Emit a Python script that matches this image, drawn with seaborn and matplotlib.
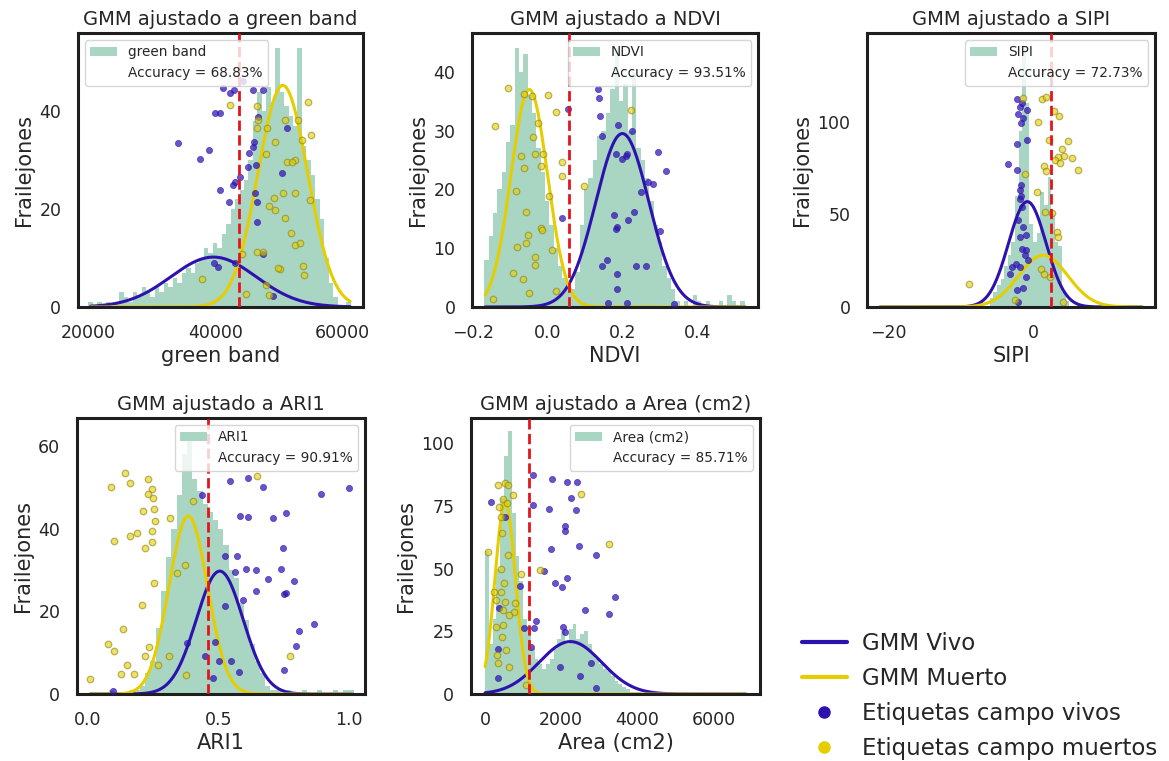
import numpy as np
import matplotlib
matplotlib.use("Agg")
import matplotlib.pyplot as plt
from matplotlib.lines import Line2D
from matplotlib.patches import Patch, Rectangle
import seaborn as sns

# ---------------- DATA ----------------
# --- green band ---
gb_bin_start = 20000
gb_bin_width = 700
gb_counts = [1, 0, 1, 0, 1, 0, 1, 3, 2, 1, 3, 2, 4, 3, 2, 4, 3, 5, 4, 6,
             5, 7, 8, 7, 9, 10, 12, 11, 13, 12, 15, 17, 20, 22, 24, 26, 30, 38, 44, 40,
             45, 42, 53, 44, 41, 39, 37, 53, 33, 30, 27, 22, 18, 10, 5, 2, 0, 0, 1, 0]
gb_vivo_gmm = [39700, 6700, 10.2]      # mean, sd, peak height
gb_muerto_gmm = [50600, 3900, 45.3]
gb_curve_range = [20400, 61200]
gb_threshold = 43700
gb_accuracy = "68.83%"
gb_vivo_x = [34170, 37550, 38960, 40000, 40780, 42340, 41200, 40680, 42080, 42710, 43020, 43900,
             45360, 45880, 46090, 45990, 47550, 46510, 46510, 46250, 47550, 49110, 50410, 40360,
             39840, 44270, 46670, 51200, 46400, 43120, 45200, 42860]
gb_vivo_y = [33.5, 30.2, 32.0, 39.6, 39.6, 43.7, 44.7, 24.0, 21.5, 24.9, 25.6, 26.6, 31.4, 32.8,
             33.8, 44.4, 44.4, 17.4, 21.5, 23.2, 10.9, 2.2, 27.3, 8.2, 8.9, 46.1, 38.9, 36.5, 29.0,
             8.9, 28.7, 44.4]
gb_muerto_x = [42340, 46510, 46770, 46510, 48070, 50930, 53020, 54580, 55000, 53540, 47910, 49370,
               51200, 52500, 52500, 50670, 49210, 48480, 49370, 54840, 50930, 51820, 52500, 53280,
               46510, 47550, 50150, 53800, 53900, 37920, 47910, 44790, 48480, 51980, 44170, 49890]
gb_muerto_y = [41.3, 41.0, 38.3, 36.5, 36.5, 38.3, 38.3, 42.0, 35.2, 34.2, 31.2, 33.8, 29.7, 30.0,
               23.2, 23.4, 22.3, 20.6, 19.8, 21.9, 18.1, 15.2, 12.6, 13.0, 11.3, 11.3, 7.7, 8.4,
               6.5, 5.8, 4.4, 2.6, 2.4, 29.7, 10.9, 7.9]
gb_xticks = [20000, 40000, 60000]
gb_yticks = [0, 20, 40]

# --- NDVI ---
nd_bin_start = -0.17
nd_bin_width = 0.0116
nd_counts = [8, 12, 16, 20, 23, 28, 31, 44, 40, 43, 36, 33, 27, 23, 18, 14, 10, 7, 5, 4,
             3, 6, 14, 20, 22, 25, 29, 30, 33, 37, 44, 35, 38, 30, 40, 27, 25, 22, 18, 14,
             11, 7, 5, 3, 1, 0, 1, 0, 2, 1, 0, 1, 0, 0, 1, 0, 2, 1, 0, 1]
nd_vivo_gmm = [0.199, 0.071, 29.5]
nd_muerto_gmm = [-0.05, 0.049, 37.0]
nd_curve_range = [-0.168, 0.527]
nd_threshold = 0.056
nd_accuracy = "93.51%"
nd_vivo_x = [0.135, 0.137, 0.053, 0.139, 0.188, 0.144, 0.226, 0.183, 0.21, 0.199, 0.212, 0.295,
             0.316, 0.268, 0.281, 0.248, 0.177, 0.23, 0.215, 0.186, 0.183, 0.299, 0.038, 0.159,
             0.144, 0.184, 0.235, 0.261, 0.184, 0.161, 0.212, 0.338]
nd_vivo_y = [37.0, 35.5, 33.6, 32.5, 31.0, 29.0, 29.9, 26.0, 25.6, 25.2, 26.0, 26.4, 23.1, 21.3,
             20.9, 19.6, 15.7, 16.2, 14.8, 13.6, 13.2, 12.9, 15.1, 8.0, 7.0, 5.6, 7.0, 7.0, 3.0,
             0.7, 0.7, 0.5]
nd_muerto_x = [-0.108, -0.142, -0.064, -0.042, 0.0, 0.022, -0.027, -0.04, -0.035, -0.073, -0.013,
               -0.018, -0.065, 0.037, 0.038, -0.086, 0.002, 0.097, -0.058, -0.018, -0.015, -0.053,
               -0.082, -0.058, 0.012, -0.035, -0.093, -0.068, -0.05, -0.148, 0.022, -0.035, 0.221]
nd_muerto_y = [37.2, 30.8, 36.2, 35.9, 36.1, 33.2, 31.3, 28.9, 26.0, 25.7, 26.0, 24.0, 23.6, 24.6,
               22.2, 19.7, 18.8, 20.6, 16.1, 13.5, 13.1, 12.2, 10.2, 10.8, 9.7, 7.2, 5.7, 4.7,
               2.4, 1.3, 2.8, 8.5, 33.5]
nd_xticks = [-0.2, 0.0, 0.2, 0.4]
nd_yticks = [0, 10, 20, 30, 40]

# --- SIPI ---
si_bin_start = -6.0
si_bin_width = 0.5
si_counts = [5, 8, 12, 15, 22, 28, 35, 60, 95, 140, 110, 45, 35, 40, 62, 55, 70, 50, 35, 33, 8, 3]
si_vivo_gmm = [-0.8, 2.6, 56.8]
si_muerto_gmm = [1.4, 3.4, 27.9]
si_curve_range = [-21.2, 15.1]
si_threshold = 2.47
si_accuracy = "72.73%"
si_vivo_x = [-2.19, -1.53, -1.77, -0.79, -2.09, -1.4, -1.72, -2.19, -0.84, -3.49, -2.19, -1.72,
             -1.86, -1.72, -1.86, -1.53, -2.09, -1.4, -1.53, -0.93, -1.16, -0.7, -2.33, -1.86,
             -3.21, -0.93, -2.19, -1.4, -2.09, -2.88, -1.86, -0.93]
si_vivo_y = [112, 110, 108, 106, 104, 102, 99, 88, 90, 77, 74, 66, 63, 60, 58, 54, 47, 43, 31.5,
             30.6, 27.9, 25.2, 23.4, 21.6, 17.7, 16.2, 9.4, 10.3, 2.7, 21.6, 37.8, 38.7]
si_muerto_x = [-1.4, 1.26, 1.72, 2.93, 3.63, 0.7, 2.19, 4.88, 3.95, 4.33, 3.49, 5.35, 3.02, 3.72,
               1.53, 1.72, 6.19, -1.16, 0.6, 1.63, 2.56, 3.26, 3.4, 1.07, 1.53, -8.84, 4.19,
               -2.56, 2.33]
si_muerto_y = [112.6, 112, 113, 105.8, 102.7, 100, 90, 89.5, 85.2, 81.4, 81, 80.5, 79.3, 77.5,
               76, 73.5, 73.9, 71.5, 62.2, 51.4, 50.5, 40.5, 37.8, 20.7, 17.7, 12.3, 2.7, 3.6, 16.2]
si_xticks = [-20, 0]
si_yticks = [0, 50, 100]

# --- ARI1 ---
ar_bin_start = 0.0
ar_bin_width = 0.02
ar_counts = [0, 0, 0, 0, 1, 0, 0, 0, 1, 1, 2, 5, 8, 16, 25, 33, 40, 48, 58, 63,
             52, 49, 46, 44, 42, 40, 36, 30, 28, 22, 18, 12, 8, 5, 2, 1, 1, 0, 1, 0,
             0, 1, 0, 0, 1, 0, 0, 1, 0, 1, 1]
ar_vivo_gmm = [0.506, 0.09, 29.7]
ar_muerto_gmm = [0.385, 0.074, 43.0]
ar_curve_range = [0.008, 1.014]
ar_threshold = 0.462
ar_accuracy = "90.91%"
ar_vivo_x = [0.545, 0.615, 0.671, 0.436, 0.894, 1.004, 0.583, 0.615, 0.712, 0.759, 0.747, 0.526,
             0.571, 0.564, 0.606, 0.645, 0.74, 0.692, 0.791, 0.645, 0.754, 0.76, 0.594, 0.526,
             0.868, 0.81, 0.797, 0.382, 0.487, 0.449, 0.504, 0.551, 0.581, 0.753, 0.481, 0.096]
ar_vivo_y = [51.5, 52.1, 50.0, 48.0, 48.3, 49.9, 43.1, 42.7, 42.6, 43.8, 35.3, 33.4, 33.3, 29.6,
             30.2, 30.0, 30.2, 27.8, 27.4, 25.0, 24.1, 24.5, 22.7, 21.2, 16.9, 15.2, 11.5, 12.4,
             12.6, 9.1, 7.9, 8.1, 5.3, 5.7, 3.8, 0.8]
ar_muerto_x = [0.141, 0.09, 0.163, 0.231, 0.244, 0.231, 0.25, 0.253, 0.212, 0.256, 0.314, 0.188,
               0.163, 0.099, 0.247, 0.244, 0.218, 0.404, 0.372, 0.34, 0.254, 0.209, 0.135, 0.077,
               0.1, 0.151, 0.128, 0.177, 0.006, 0.218, 0.235, 0.269, 0.31, 0.378, 0.65, 0.776]
ar_muerto_y = [53.3, 50.1, 51.1, 51.9, 49.6, 48.3, 47.3, 44.6, 44.2, 41.8, 42.6, 38.9, 38.1, 36.9,
               39.3, 36.7, 35.3, 46.6, 31.2, 29.2, 26.8, 21.5, 15.8, 12.2, 10.4, 6.9, 4.9, 4.9,
               3.6, 9.2, 11.4, 6.9, 9.2, 4.6, 52.6, 9.3]
ar_xticks = [0.0, 0.5, 1.0]
ar_yticks = [0, 20, 40, 60]

# --- Area (cm2) ---
area_bin_start = 0
area_bin_width = 100
area_counts = [57, 20, 30, 50, 78, 95, 105, 72, 55, 45, 30, 27, 18, 14, 12, 10, 12, 14, 18, 22,
               25, 20, 26, 28, 22, 24, 25, 20, 16, 14, 12, 10, 9, 7, 5, 4, 3, 2, 1, 1,
               1, 0, 1, 0, 1]
area_vivo_gmm = [2240, 820, 20.9]
area_muerto_gmm = [529, 268, 76.5]
area_curve_range = [0, 6850]
area_threshold = 1163
area_accuracy = "85.71%"
area_vivo_x = [150, 529, 1269, 1753, 2150, 2414, 1251, 1692, 2264, 2396, 2088, 2106, 1744, 2458,
               2907, 925, 1559, 1824, 2026, 2159, 3410, 2634, 3251, 370, 1339, 2044, 2106, 1031,
               352, 1956, 2793, 2502, 352, 2925, 1207, 1295]
area_vivo_y = [76.7, 70.7, 87.4, 85.6, 84.4, 84.7, 75.4, 73.7, 78.1, 73.4, 66.8, 64.8, 57.8, 59.0,
               55.5, 43.1, 49.1, 44.1, 42.8, 46.4, 38.8, 33.5, 31.8, 34.2, 29.1, 26.9, 24.9, 26.2,
               17.8, 10.6, 12.5, 7.2, 6.5, 2.3, 18.9, 26.2]
area_muerto_x = [352, 529, 590, 722, 458, 370, 564, 88, 414, 441, 590, 414, 943, 1445, 502, 282,
                 529, 793, 749, 282, 458, 441, 546, 326, 352, 634, 1075, 2529, 3260, 414, 238,
                 458, 634]
area_muerto_y = [83.4, 84.0, 83.4, 79.4, 77.7, 74.7, 76.1, 56.8, 70.7, 64.1, 55.5, 49.7, 47.7,
                 49.5, 44.1, 37.5, 36.8, 36.2, 32.8, 26.9, 27.5, 22.6, 17.6, 15.6, 12.2, 10.6,
                 3.6, 79.7, 59.7, 40.8, 40.8, 33.5, 31.5]
area_xticks = [0, 2000, 4000, 6000]
area_yticks = [0, 25, 50, 75, 100]

legend_labels = ["GMM Vivo", "GMM Muerto", "Etiquetas campo vivos", "Etiquetas campo muertos"]

# ---------------- STYLE ----------------
sns.set_theme(style="white")
plt.rcParams["font.family"] = ["DejaVu Sans"]

HIST_C = "#a9d6c2"
VIVO_C = "#2e12b0"
MUERTO_C = "#e6cd00"
MUERTO_EDGE = "#8a8510"
RED_C = "#e3141b"
SPINE_C = "#1f1f1f"
TEXT_C = "#262626"

panels = [
    dict(name="green band", start=gb_bin_start, width=gb_bin_width, counts=gb_counts,
         vivo=gb_vivo_gmm, muerto=gb_muerto_gmm, crange=gb_curve_range, thr=gb_threshold,
         acc=gb_accuracy, vx=gb_vivo_x, vy=gb_vivo_y, mx=gb_muerto_x, my=gb_muerto_y,
         xlim=(18400, 63200), ylim=(0, 56), xt=gb_xticks, yt=gb_yticks, loc="upper left",
         rect=[0.0667, 0.5966, 0.2438, 0.3600]),
    dict(name="NDVI", start=nd_bin_start, width=nd_bin_width, counts=nd_counts,
         vivo=nd_vivo_gmm, muerto=nd_muerto_gmm, crange=nd_curve_range, thr=nd_threshold,
         acc=nd_accuracy, vx=nd_vivo_x, vy=nd_vivo_y, mx=nd_muerto_x, my=nd_muerto_y,
         xlim=(-0.203, 0.562), ylim=(0, 46.6), xt=nd_xticks, yt=nd_yticks, loc="upper right",
         rect=[0.4038, 0.5966, 0.2447, 0.3600]),
    dict(name="SIPI", start=si_bin_start, width=si_bin_width, counts=si_counts,
         vivo=si_vivo_gmm, muerto=si_muerto_gmm, crange=si_curve_range, thr=si_threshold,
         acc=si_accuracy, vx=si_vivo_x, vy=si_vivo_y, mx=si_muerto_x, my=si_muerto_y,
         xlim=(-23.0, 16.9), ylim=(0, 147.7), xt=si_xticks, yt=si_yticks, loc="upper right",
         rect=[0.7417, 0.5966, 0.2464, 0.3600]),
    dict(name="ARI1", start=ar_bin_start, width=ar_bin_width, counts=ar_counts,
         vivo=ar_vivo_gmm, muerto=ar_muerto_gmm, crange=ar_curve_range, thr=ar_threshold,
         acc=ar_accuracy, vx=ar_vivo_x, vy=ar_vivo_y, mx=ar_muerto_x, my=ar_muerto_y,
         xlim=(-0.042, 1.064), ylim=(0, 66.7), xt=ar_xticks, yt=ar_yticks, loc="upper right",
         rect=[0.0659, 0.0880, 0.2464, 0.3627]),
    dict(name="Area (cm2)", start=area_bin_start, width=area_bin_width, counts=area_counts,
         vivo=area_vivo_gmm, muerto=area_muerto_gmm, crange=area_curve_range, thr=area_threshold,
         acc=area_accuracy, vx=area_vivo_x, vy=area_vivo_y, mx=area_muerto_x, my=area_muerto_y,
         xlim=(-370, 7220), ylim=(0, 110), xt=area_xticks, yt=area_yticks, loc="upper right",
         rect=[0.4029, 0.0880, 0.2472, 0.3627]),
]


def gmm_component(x, params):
    mu, sd, peak = params
    return peak * np.exp(-0.5 * ((x - mu) / sd) ** 2)


fig = plt.figure(figsize=(11.69, 7.61), dpi=100)

for p in panels:
    ax = fig.add_axes(p["rect"])
    counts = np.asarray(p["counts"], dtype=float)
    edges = p["start"] + p["width"] * np.arange(len(counts) + 1)
    centers = edges[:-1] + p["width"] / 2.0
    sns.histplot(x=centers, weights=counts, bins=edges.tolist(), color=HIST_C, alpha=1.0,
                 linewidth=0, edgecolor="none", ax=ax, zorder=1)

    xs = np.linspace(p["crange"][0], p["crange"][1], 600)
    sns.lineplot(x=xs, y=gmm_component(xs, p["vivo"]), color=VIVO_C, linewidth=2.2,
                 estimator=None, ax=ax, zorder=2)
    sns.lineplot(x=xs, y=gmm_component(xs, p["muerto"]), color=MUERTO_C, linewidth=2.2,
                 estimator=None, ax=ax, zorder=2)

    sns.scatterplot(x=p["vx"], y=p["vy"], color=VIVO_C, edgecolor=VIVO_C, linewidth=0.5,
                    s=20, alpha=0.72, ax=ax, zorder=3, legend=False)
    sns.scatterplot(x=p["mx"], y=p["my"], color=MUERTO_C, edgecolor=MUERTO_EDGE, linewidth=0.9,
                    s=22, alpha=0.6, ax=ax, zorder=3, legend=False)

    ax.axvline(p["thr"], color=RED_C, linestyle="--", linewidth=2.0, zorder=4)

    ax.set_xlim(*p["xlim"])
    ax.set_ylim(*p["ylim"])
    ax.set_xticks(p["xt"])
    ax.set_yticks(p["yt"])
    ax.set_title(f"GMM ajustado a {p['name']}", fontsize=14, color=TEXT_C)
    ax.set_xlabel(p["name"], fontsize=15, color=TEXT_C, labelpad=3)
    ax.set_ylabel("Frailejones", fontsize=15, color=TEXT_C, labelpad=4)
    ax.tick_params(axis="both", labelsize=12.5, length=0, pad=12, colors=TEXT_C)
    for s in ax.spines.values():
        s.set_visible(True)
        s.set_color(SPINE_C)
        s.set_linewidth(2.2)

    h = [Patch(facecolor=HIST_C, edgecolor="none"),
         Rectangle((0, 0), 1, 1, fill=False, edgecolor="none", visible=False)]
    ax.legend(h, [p["name"], f"Accuracy = {p['acc']}"], loc=p["loc"], fontsize=9.8,
              frameon=True, framealpha=0.8, edgecolor="#cccccc", fancybox=True)

fig_handles = [
    Line2D([0], [0], color=VIVO_C, linewidth=3),
    Line2D([0], [0], color=MUERTO_C, linewidth=3),
    Line2D([0], [0], marker="o", linestyle="none", markerfacecolor=VIVO_C,
           markeredgecolor=VIVO_C, markersize=8),
    Line2D([0], [0], marker="o", linestyle="none", markerfacecolor=MUERTO_C,
           markeredgecolor=MUERTO_C, markersize=8),
]
fig.legend(fig_handles, legend_labels, loc="upper left", bbox_to_anchor=(0.668, 0.196),
           frameon=False, fontsize=16.5, handlelength=2.0, handletextpad=0.62,
           labelspacing=0.51, borderpad=0.4)

fig.savefig("out.png", dpi=100)
